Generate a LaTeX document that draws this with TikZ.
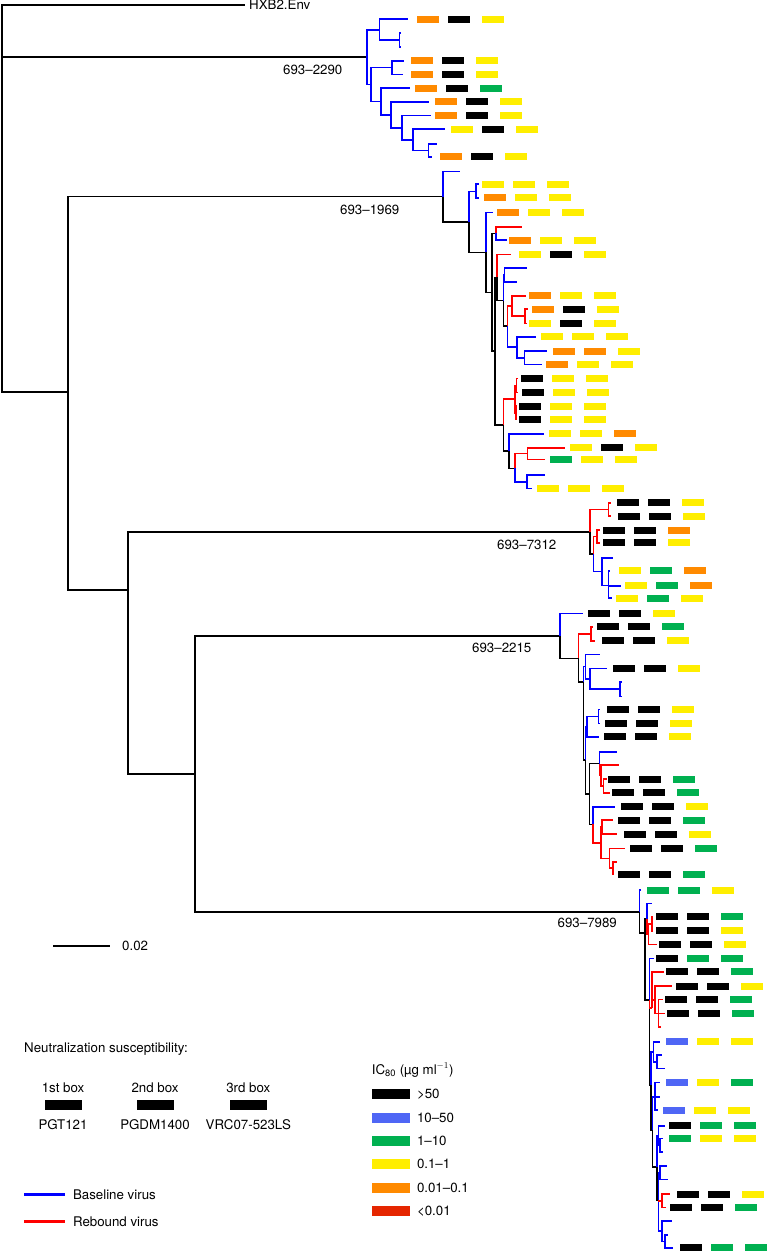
\documentclass[tikz,border=0pt]{standalone}
\usepackage{fontspec}
\setmainfont{TeX Gyre Heros}
\usepackage{xcolor}
\usepackage{tikz}
\usetikzlibrary{positioning}
\definecolor{baseblue}{HTML}{0000FF}
\definecolor{rebred}{HTML}{FF0000}
\definecolor{icK}{HTML}{000000}
\definecolor{icB}{HTML}{4F66F5}
\definecolor{icG}{HTML}{00B050}
\definecolor{icY}{HTML}{FFEE00}
\definecolor{icO}{HTML}{FF8A00}
\definecolor{icR}{HTML}{E52600}
\newcommand{\tiprow}[6]{%
  \node[ibox=#4] (#1a) at (#2,#3) {};
  \node[ibox=#5] (#1b) at (#2+31,#3) {};
  \node[ibox=#6] (#1c) at (#2+65,#3) {};}

\begin{document}
\begin{tikzpicture}[x=1pt, y=-1pt,
    font=\fontsize{13.3}{16}\selectfont,
    base/.style={draw=baseblue, line width=1.6pt},
    reb/.style={draw=rebred, line width=1.6pt},
    stem/.style={draw=black, line width=1.6pt},
    ibox/.style={fill=#1, minimum width=22pt, minimum height=7pt,
        inner sep=0pt, outer sep=0pt, anchor=west},
    kbox/.style={fill=#1, minimum width=37pt, minimum height=10pt,
        inner sep=0pt, outer sep=0pt},
    clade/.style={anchor=west, inner sep=0pt},
    txt/.style={anchor=base west, inner sep=0pt},
  ]
  \useasboundingbox (0,0) rectangle (768,1252);

  \coordinate (root) at (2,57.3);
  \coordinate (n1) at (68,392);
  \coordinate (n2) at (128,590);
  \coordinate (n3) at (195,773.8);
  \coordinate (hxb) at (245,5);
  \node[clade, right=4pt of hxb] (hxblab) {HXB2.Env};

  % 693-2290
  \coordinate (a0) at (366.7,57.3);
  \coordinate (a1) at (379.3,30);
  \coordinate (at1) at (407.7,19.3);
  \coordinate (a2) at (399.3,40.3);
  \coordinate (at2) at (401,33.3);
  \coordinate (at3) at (401,47.3);
  \coordinate (a3) at (371,84.7);
  \coordinate (a4) at (391.7,67.7);
  \coordinate (at4) at (404.3,61);
  \coordinate (at5) at (403.3,74.7);
  \coordinate (a5) at (381,101.7);
  \coordinate (at6) at (410,88.3);
  \coordinate (a6) at (390.7,115);
  \coordinate (at7) at (429.3,102);
  \coordinate (a7) at (401.7,128);
  \coordinate (at8) at (430.7,115.7);
  \coordinate (a8) at (412.7,140);
  \coordinate (at9) at (445,129.3);
  \coordinate (a9) at (428.3,150.5);
  \coordinate (at10) at (436.7,144);
  \coordinate (at11) at (431.7,157);
  \node[clade] (l2290) at (283,69.5) {693–2290};

  % 693-1969
  \coordinate (b0) at (442.7,196.7);
  \coordinate (bt1) at (460,171.7);
  \coordinate (b1) at (469,222);
  \coordinate (b2) at (475.7,191.5);
  \coordinate (bt2) at (479.3,184.3);
  \coordinate (bt3) at (479.3,198);
  \coordinate (b3) at (486,252.3);
  \coordinate (bt4) at (493.3,212.3);
  \coordinate (b4) at (491.7,292.3);
  \coordinate (b5) at (495.7,233.3);
  \coordinate (bt5) at (521.7,226.7);
  \coordinate (bt6) at (506.7,240);
  \coordinate (b6) at (495,351.2);
  \coordinate (b7) at (496.7,277.4);
  \coordinate (bt7) at (511,254.3);
  \coordinate (b8) at (503.3,300.5);
  \coordinate (b9) at (504.3,274.7);
  \coordinate (bt8) at (526.7,267.7);
  \coordinate (bt9) at (516.7,281.7);
  \coordinate (b10) at (507.3,326.2);
  \coordinate (b11) at (511.7,305.7);
  \coordinate (bt10) at (526,295.7);
  \coordinate (b12) at (525,316.2);
  \coordinate (bt11) at (527.7,309);
  \coordinate (bt12) at (526.7,323.3);
  \coordinate (b13) at (516.7,346.7);
  \coordinate (bt13) at (536,336.7);
  \coordinate (b14) at (524.3,357.7);
  \coordinate (bt14) at (547.3,351);
  \coordinate (bt15) at (542.3,364.3);
  \coordinate (b15) at (503.3,425);
  \coordinate (b16) at (515,399);
  \coordinate (b17) at (516.3,385.3);
  \coordinate (bt16) at (517.8,378.3);
  \coordinate (bt17) at (517.8,392.3);
  \coordinate (b18) at (515.7,412.7);
  \coordinate (bt18) at (517.2,406);
  \coordinate (bt19) at (517.2,419.3);
  \coordinate (b19) at (509,450.7);
  \coordinate (bt20) at (544.3,433.7);
  \coordinate (b20) at (515,468.3);
  \coordinate (b21) at (527.3,453.5);
  \coordinate (bt21) at (565,447.7);
  \coordinate (bt22) at (545,459.3);
  \coordinate (b22) at (526.7,481.7);
  \coordinate (bt23) at (545,475);
  \coordinate (bt24) at (531.7,488.3);
  \node[clade] (l1969) at (340,210) {693–1969};

  % 693-7312
  \coordinate (c0) at (590,532);
  \coordinate (c1) at (608.3,509.3);
  \coordinate (ct1) at (611,502.7);
  \coordinate (ct2) at (611,516);
  \coordinate (c2) at (593.3,554);
  \coordinate (c3) at (596.7,536.3);
  \coordinate (ct3) at (600,530);
  \coordinate (ct4) at (600,542.7);
  \coordinate (c4) at (601.7,571.5);
  \coordinate (ct5) at (613.3,557.7);
  \coordinate (c5) at (608.3,585.3);
  \coordinate (ct6) at (610,571);
  \coordinate (ct7) at (620.7,585.7);
  \coordinate (ct8) at (611.7,598);
  \node[clade] (l7312) at (497,545) {693–7312};

  % 693-2215
  \coordinate (d0) at (560,636);
  \coordinate (dt1) at (583.3,613.3);
  \coordinate (d1) at (578.3,658.3);
  \coordinate (d2) at (591,633.7);
  \coordinate (dt2) at (593.3,626.7);
  \coordinate (dt3) at (595,640.7);
  \coordinate (d3) at (583.3,681.7);
  \coordinate (d4) at (585.3,666.5);
  \coordinate (dt4) at (600,654.3);
  \coordinate (d5) at (590,678.7);
  \coordinate (dt5) at (606.7,668.3);
  \coordinate (d6) at (620,689);
  \coordinate (dt6) at (621.7,681.7);
  \coordinate (dt7) at (621.7,696.3);
  \coordinate (d7) at (585.3,760);
  \coordinate (d8) at (586.7,726.5);
  \coordinate (d9) at (598.3,716.3);
  \coordinate (dt8) at (600,709.3);
  \coordinate (dt9) at (600,723.3);
  \coordinate (dt10) at (599.3,736.7);
  \coordinate (d10) at (589.3,794);
  \coordinate (d11) at (599.3,763.6);
  \coordinate (dt11) at (617.3,751.7);
  \coordinate (d12) at (600.7,775.5);
  \coordinate (dt12) at (619.3,765);
  \coordinate (d13) at (603.3,785.8);
  \coordinate (dt13) at (606.7,779);
  \coordinate (dt14) at (610,792.7);
  \coordinate (d14) at (592.7,824.3);
  \coordinate (dt15) at (615,806.7);
  \coordinate (d15) at (600.7,842.7);
  \coordinate (d16) at (601.7,827);
  \coordinate (dt16) at (612.7,820);
  \coordinate (dt17) at (617.3,834);
  \coordinate (d17) at (609.3,858.3);
  \coordinate (dt18) at (625,848.3);
  \coordinate (d18) at (612.7,868);
  \coordinate (dt19) at (617.3,861.7);
  \coordinate (dt20) at (614,874);
  \node[clade] (l2215) at (472,648) {693–2215};

  % 693-7989
  \coordinate (e0) at (639.3,911.7);
  \coordinate (et1) at (640.7,890);
  \coordinate (e1) at (645,932.7);
  \coordinate (e2) at (646.7,918.6);
  \coordinate (et2) at (651.7,903.3);
  \coordinate (e3) at (648.3,934);
  \coordinate (e4) at (651.7,923.7);
  \coordinate (et3) at (653.3,916.7);
  \coordinate (et4) at (653.3,930.7);
  \coordinate (et5) at (656.7,944.3);
  \coordinate (e5) at (649.3,1000);
  \coordinate (et6) at (653.5,958.3);
  \coordinate (e6) at (652,1008);
  \coordinate (et7) at (664,971.7);
  \coordinate (e7) at (655,999.7);
  \coordinate (et8) at (671.7,986);
  \coordinate (e8) at (658.3,1013.3);
  \coordinate (et9) at (663.3,999.3);
  \coordinate (et10) at (665,1013.3);
  \coordinate (et11) at (660.7,1026.7);
  \coordinate (e9) at (650.7,1085);
  \coordinate (e10) at (653.3,1051.7);
  \coordinate (et12) at (660,1041.7);
  \coordinate (e11) at (656.7,1061.7);
  \coordinate (et13) at (661.7,1055);
  \coordinate (et14) at (665,1068.3);
  \coordinate (e12) at (652.3,1130);
  \coordinate (e13) at (655,1096.7);
  \coordinate (et15) at (660,1082.3);
  \coordinate (et16) at (660,1096.7);
  \coordinate (et17) at (658.3,1110);
  \coordinate (e14) at (656.7,1167);
  \coordinate (e15) at (658.3,1135.3);
  \coordinate (et18) at (665,1125.7);
  \coordinate (e16) at (660,1145);
  \coordinate (et19) at (663.3,1138.3);
  \coordinate (et20) at (663.3,1151.7);
  \coordinate (e17) at (658.3,1200);
  \coordinate (e18) at (660,1172.5);
  \coordinate (et21) at (666.7,1165.7);
  \coordinate (et22) at (668.3,1179.3);
  \coordinate (e19) at (661.7,1200.7);
  \coordinate (et23) at (670,1194);
  \coordinate (et24) at (665.7,1207.3);
  \coordinate (e20) at (661.7,1231);
  \coordinate (et25) at (671.7,1220.7);
  \coordinate (e21) at (665,1241.3);
  \coordinate (et26) at (668.3,1235);
  \coordinate (et27) at (673.3,1247.7);
  \node[clade] (l7989) at (557.5,922.7) {693–7989};

  \draw[stem] (root) |- (hxb) (root) |- (a0) (root) |- (n1)
    (n1) |- (b0) (n1) |- (n2) (n2) |- (c0) (n2) |- (n3)
    (n3) |- (d0) (n3) |- (e0);

  \draw[base] (a0) |- (a1) (a1) |- (at1) (a1) |- (a2) (a2) |- (at2) (a2) |- (at3)
    (a0) |- (a3) (a3) |- (a4) (a4) |- (at4) (a4) |- (at5) (a3) |- (a5)
    (a5) |- (at6) (a5) |- (a6) (a6) |- (at7) (a6) |- (a7) (a7) |- (at8)
    (a7) |- (a8) (a8) |- (at9) (a8) |- (a9) (a9) |- (at10) (a9) |- (at11);

  \draw[stem] (b0) |- (b1) (b1) |- (b3) (b3) |- (b4) (b4) |- (b5) (b4) |- (b6)
    (b6) |- (b7) (b7) |- (b8) (b8) |- (b10) (b6) |- (b15) (b15) |- (b19) (b19) |- (b20);
  \draw[base] (b0) |- (bt1) (b1) |- (b2) (b2) |- (bt2) (b2) |- (bt3) (b3) |- (bt4)
    (b5) |- (bt6) (b8) |- (b9) (b9) |- (bt8) (b9) |- (bt9) (b10) |- (b13)
    (b13) |- (bt13) (b13) |- (b14) (b14) |- (bt14) (b14) |- (bt15)
    (b19) |- (bt20) (b20) |- (b22) (b22) |- (bt23) (b22) |- (bt24);
  \draw[reb] (b5) |- (bt5) (b7) |- (bt7) (b10) |- (b11) (b11) |- (bt10) (b11) |- (b12)
    (b12) |- (bt11) (b12) |- (bt12) (b15) |- (b16) (b16) |- (b17) (b17) |- (bt16)
    (b17) |- (bt17) (b16) |- (b18) (b18) |- (bt18) (b18) |- (bt19)
    (b20) |- (b21) (b21) |- (bt21) (b21) |- (bt22);

  \draw[stem] (c0) |- (c2);
  \draw[reb] (c0) |- (c1) (c1) |- (ct1) (c1) |- (ct2) (c2) |- (c3) (c3) |- (ct3) (c3) |- (ct4);
  \draw[base] (c2) |- (c4) (c4) |- (ct5) (c4) |- (c5) (c5) |- (ct6) (c5) |- (ct7) (c5) |- (ct8);

  \draw[stem] (d0) |- (d1) (d1) |- (d3) (d3) |- (d7) (d7) |- (d10) (d10) |- (d11) (d10) |- (d14);
  \draw[base] (d0) |- (dt1) (d3) |- (d4) (d4) |- (dt4) (d4) |- (d5) (d5) |- (dt5)
    (d5) |- (d6) (d6) |- (dt6) (d6) |- (dt7) (d7) |- (d8) (d8) |- (d9) (d9) |- (dt8)
    (d9) |- (dt9) (d8) |- (dt10) (d11) |- (dt11) (d14) |- (dt15);
  \draw[reb] (d1) |- (d2) (d2) |- (dt2) (d2) |- (dt3) (d11) |- (d12) (d12) |- (dt12)
    (d12) |- (d13) (d13) |- (dt13) (d13) |- (dt14) (d14) |- (d15) (d15) |- (d16)
    (d16) |- (dt16) (d16) |- (dt17) (d15) |- (d17) (d17) |- (dt18) (d17) |- (d18)
    (d18) |- (dt19) (d18) |- (dt20);

  \draw[stem] (e0) |- (e1) (e1) |- (e2) (e1) |- (e5) (e5) |- (e9) (e9) |- (e12)
    (e12) |- (e14) (e14) |- (e17);
  \draw[base] (e0) |- (et1) (e2) |- (et2) (e5) |- (et6) (e9) |- (e10) (e10) |- (et12)
    (e10) |- (e11) (e11) |- (et13) (e11) |- (et14) (e12) |- (e13) (e13) |- (et15)
    (e13) |- (et16) (e13) |- (et17) (e14) |- (e15) (e15) |- (et18) (e15) |- (e16)
    (e16) |- (et19) (e16) |- (et20) (e17) |- (e18) (e18) |- (et21) (e18) |- (et22)
    (e17) |- (e20) (e20) |- (et25) (e20) |- (e21) (e21) |- (et26) (e21) |- (et27);
  \draw[reb] (e2) |- (e3) (e3) |- (e4) (e4) |- (et3) (e4) |- (et4) (e3) |- (et5)
    (e5) |- (e6) (e6) |- (et7) (e6) |- (e7) (e7) |- (et8) (e7) |- (e8) (e8) |- (et9)
    (e8) |- (et10) (e8) |- (et11) (e17) |- (e19) (e19) |- (et23) (e19) |- (et24);

  \tiprow{at1}{416.7}{19.3}{icO}{icK}{icY}
  \tiprow{at4}{410.7}{61}{icO}{icK}{icY}
  \tiprow{at5}{410.7}{74.7}{icO}{icK}{icY}
  \tiprow{at6}{415}{88.3}{icO}{icK}{icG}
  \tiprow{at7}{435.3}{102}{icO}{icK}{icY}
  \tiprow{at8}{435.3}{115.7}{icO}{icK}{icY}
  \tiprow{at9}{451.3}{129.3}{icY}{icK}{icY}
  \tiprow{at11}{439.7}{157}{icO}{icK}{icY}

  \tiprow{bt2}{481.7}{184.3}{icY}{icY}{icY}
  \tiprow{bt3}{484}{197.5}{icO}{icY}{icY}
  \tiprow{bt4}{496.7}{212.3}{icO}{icY}{icY}
  \tiprow{bt6}{509.3}{240}{icO}{icY}{icY}
  \tiprow{bt7}{519.3}{254.3}{icY}{icK}{icY}
  \tiprow{bt10}{529}{295.7}{icO}{icY}{icY}
  \tiprow{bt11}{531.7}{309}{icO}{icK}{icY}
  \tiprow{bt12}{528.5}{323.3}{icY}{icK}{icY}
  \tiprow{bt13}{541}{336.7}{icY}{icY}{icY}
  \tiprow{bt14}{553.3}{351}{icO}{icO}{icY}
  \tiprow{bt15}{546.3}{364.3}{icO}{icY}{icY}
  \tiprow{bt16}{520.7}{378.3}{icK}{icY}{icY}
  \tiprow{bt17}{521.7}{392.3}{icK}{icY}{icY}
  \tiprow{bt18}{519.3}{406}{icK}{icY}{icY}
  \tiprow{bt19}{519.3}{419.3}{icK}{icY}{icY}
  \tiprow{bt20}{549}{433.7}{icY}{icY}{icO}
  \tiprow{bt21}{570}{447.7}{icY}{icK}{icY}
  \tiprow{bt22}{550}{459.3}{icG}{icY}{icY}
  \tiprow{bt24}{536.7}{488.3}{icY}{icY}{icY}

  \tiprow{ct1}{616.7}{502.7}{icK}{icK}{icY}
  \tiprow{ct2}{618.3}{516}{icK}{icK}{icY}
  \tiprow{ct3}{602.7}{530}{icK}{icK}{icO}
  \tiprow{ct4}{603.3}{542.7}{icK}{icK}{icY}
  \tiprow{ct6}{619}{570.5}{icY}{icG}{icO}
  \tiprow{ct7}{625}{585.7}{icY}{icG}{icO}
  \tiprow{ct8}{616}{598}{icY}{icG}{icY}

  \tiprow{dt1}{588.3}{613.3}{icK}{icK}{icY}
  \tiprow{dt2}{596.7}{626.7}{icK}{icK}{icG}
  \tiprow{dt3}{601.7}{640.7}{icK}{icK}{icY}
  \tiprow{dt5}{612.7}{668.3}{icK}{icK}{icY}
  \tiprow{dt8}{606.7}{709.3}{icK}{icK}{icY}
  \tiprow{dt9}{605}{723.3}{icK}{icK}{icY}
  \tiprow{dt10}{604.3}{736.7}{icK}{icK}{icY}
  \tiprow{dt13}{608.3}{779}{icK}{icK}{icG}
  \tiprow{dt14}{611.7}{792.7}{icK}{icK}{icG}
  \tiprow{dt15}{620.7}{806.7}{icK}{icK}{icY}
  \tiprow{dt16}{618.3}{820}{icK}{icK}{icG}
  \tiprow{dt17}{624}{834}{icK}{icK}{icY}
  \tiprow{dt18}{630}{848.3}{icK}{icK}{icG}
  \tiprow{dt20}{618.3}{874}{icK}{icK}{icG}

  \tiprow{et1}{646.7}{890}{icG}{icG}{icY}
  \tiprow{et3}{656}{916.7}{icK}{icK}{icG}
  \tiprow{et4}{656}{930.7}{icK}{icK}{icY}
  \tiprow{et5}{659}{944.3}{icK}{icK}{icY}
  \tiprow{et6}{656}{958.3}{icK}{icG}{icG}
  \tiprow{et7}{666}{971.7}{icK}{icK}{icG}
  \tiprow{et8}{676}{986}{icK}{icK}{icY}
  \tiprow{et9}{665}{999.3}{icK}{icK}{icG}
  \tiprow{et10}{666.7}{1013.3}{icK}{icK}{icG}
  \tiprow{et12}{665.7}{1041.7}{icB}{icY}{icY}
  \tiprow{et15}{665.7}{1082.3}{icB}{icY}{icG}
  \tiprow{et17}{663.3}{1110}{icB}{icY}{icY}
  \tiprow{et18}{669.3}{1125.7}{icK}{icG}{icG}
  \tiprow{et19}{669.3}{1138.3}{icG}{icY}{icY}
  \tiprow{et23}{677.3}{1194}{icK}{icK}{icY}
  \tiprow{et24}{670}{1207.3}{icK}{icK}{icG}
  \tiprow{et27}{680}{1247.7}{icK}{icG}{icG}

  \coordinate (sb0) at (53,946);
  \coordinate (sb1) at (110,946);
  \draw[stem, line width=1.3pt] (sb0) -- (sb1);
  \node[clade, right=12pt of sb1] (sblab) {0.02};

  \node[txt] (nstitle) at (24,1052.3) {Neutralization susceptibility:};
  \node[kbox=icK] (k1) at (63,1105) {};
  \node[kbox=icK] (k2) at (155,1105) {};
  \node[kbox=icK] (k3) at (248.3,1105) {};
  \node[above=4pt of k1] (k1t) {1st box};
  \node[above=4pt of k2] (k2t) {2nd box};
  \node[above=4pt of k3] (k3t) {3rd box};
  \node[below=6.5pt of k1] (k1l) {PGT121};
  \node[below=6.5pt of k2] (k2l) {PGDM1400};
  \node[below=6.5pt of k3] (k3l) {VRC07-523LS};

  \coordinate (lb0) at (24,1194.3);
  \coordinate (lb1) at (65,1194.3);
  \coordinate (lr0) at (24,1221.7);
  \coordinate (lr1) at (65,1221.7);
  \draw[base, line width=2.6pt] (lb0) -- (lb1);
  \draw[reb, line width=2.6pt] (lr0) -- (lr1);
  \node[right=4.5pt of lb1] (lbt) {Baseline virus};
  \node[right=4.5pt of lr1] (lrt) {Rebound virus};

  \node[txt] (ictitle) at (371.7,1074) {IC\textsubscript{80} (µg ml$^{-1}$)};
  \node[kbox=icK, minimum width=38pt, anchor=west] (ic1) at (372.3,1094.3) {};
  \node[kbox=icB, minimum width=38pt, anchor=west] (ic2) at (372.3,1117.6) {};
  \node[kbox=icG, minimum width=38pt, anchor=west] (ic3) at (372.3,1140.9) {};
  \node[kbox=icY, minimum width=38pt, anchor=west] (ic4) at (372.3,1164.2) {};
  \node[kbox=icO, minimum width=38pt, anchor=west] (ic5) at (372.3,1187.5) {};
  \node[kbox=icR, minimum width=38pt, anchor=west] (ic6) at (372.3,1210.8) {};
  \node[clade, right=6.5pt of ic1] (ic1t) {>50};
  \node[clade, right=6.5pt of ic2] (ic2t) {10–50};
  \node[clade, right=6.5pt of ic3] (ic3t) {1–10};
  \node[clade, right=6.5pt of ic4] (ic4t) {0.1–1};
  \node[clade, right=6.5pt of ic5] (ic5t) {0.01–0.1};
  \node[clade, right=6.5pt of ic6] (ic6t) {<0.01};
\end{tikzpicture}
\end{document}
